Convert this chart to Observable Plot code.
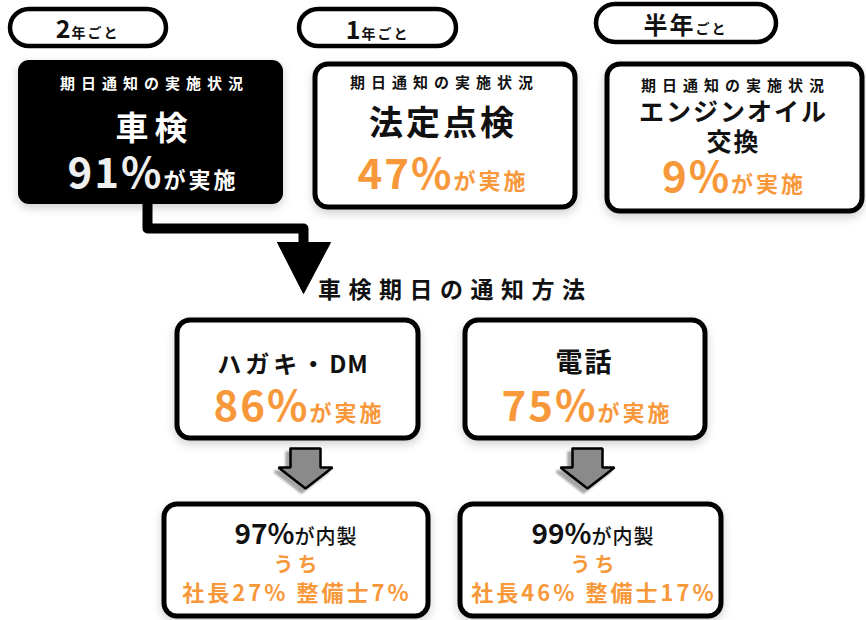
<!DOCTYPE html>
<html><head><meta charset="utf-8">
<script src="https://cdn.jsdelivr.net/npm/d3@7"></script>
<script src="https://cdn.jsdelivr.net/npm/@observablehq/plot@0.6"></script>
<style>html,body{margin:0;padding:0;background:#fff}</style>
</head><body><div id="chart"></div><script>
// ---------- data ----------
const intervalNums = ["2", "1", "半年"];
const intervalUnits = ["年ごと", "年ごと", "ごと"];
const headerLabel = "期日通知の実施状況";
const items = ["車検", "法定点検", "エンジンオイル\n交換"];
const itemRates = [91, 47, 9];
const doneSuffix = "が実施";
const methodTitle = "車検期日の通知方法";
const methods = ["ハガキ・DM", "電話"];
const methodRates = [86, 75];
const inhouseRates = [97, 99];
const inhouseSuffix = "が内製";
const ofWhich = "うち";
const presidentShares = [27, 46];
const mechanicShares = [7, 17];

// ---------- style / layout ----------
const FONT = '"Noto Sans CJK JP", "Noto Sans CJK SC", sans-serif';
const ORANGE = "#f7983a";
const INK = "#111111";
const W = 866, H = 620;
const pills = [
  {x1: 10, x2: 166, y1: 9, y2: 46, cx: 86, base: 37, numSize: 25},
  {x1: 299, x2: 456, y1: 9, y2: 46, cx: 376, base: 38, numSize: 25},
  {x1: 596, x2: 776, y1: 4, y2: 42, cx: 684, base: 33, numSize: 24}
];
const tops = [
  {x1: 18, x2: 283, y1: 60, y2: 204, cx: 151, hdr: 88, item: [139], itemSize: 33, itemLs: 6, rate: 187, dark: true},
  {x1: 315, x2: 575, y1: 64, y2: 207, cx: 441, hdr: 87, item: [134], itemSize: 34, itemLs: 3, rate: 188},
  {x1: 607, x2: 862, y1: 64, y2: 211, cx: 732, hdr: 90, item: [120, 150], itemSize: 25, itemLs: 2, rate: 191}
];
const mids = [
  {x1: 177, x2: 418, y1: 320, y2: 438, cx: 292, name: 372, nameSize: 24, nameLs: 4, rate: 420, rateCx: 297, arrowCx: 305},
  {x1: 465, x2: 705, y1: 320, y2: 438, cx: 583, name: 371, nameSize: 27, nameLs: 2, rate: 420, rateCx: 585, arrowCx: 587}
];
const bots = [
  {x1: 164, x2: 428, y1: 504, y2: 616, cx: 295, l1: 543, l2: 571, l3: 600},
  {x1: 460, x2: 721, y1: 504, y2: 616, cx: 592, l1: 543, l2: 571, l3: 600}
];
const title = {cx: 451, base: 297};

// ---------- text layout helper ----------
const ctx = document.createElement("canvas").getContext("2d");
function measure(t, s, w, ls) {
  ctx.font = `${w} ${s}px ${FONT}`;
  return ctx.measureText(t).width + ls * [...t].length;
}
const T = [];
function line(parts, cx, y) {
  parts = parts.map(p => ({w: 700, ls: 0, ...p}));
  const widths = parts.map(p => measure(p.t, p.s, p.w, p.ls));
  const total = d3.sum(widths) - parts[parts.length - 1].ls;
  let x = cx - total / 2;
  parts.forEach((p, i) => { T.push({...p, x, y}); x += widths[i]; });
}
// split a label into full-width (CJK) and half-width (latin) runs for different spacing
function runs(label, size, lsWide, lsNarrow) {
  return label.match(/[\x00-\x7F]+|[^\x00-\x7F]+/g).map(r =>
    ({t: r, s: size, f: INK, ls: /^[\x00-\x7F]+$/.test(r) ? lsNarrow : lsWide}));
}

pills.forEach((p, i) => {
  line([{t: intervalNums[i], s: p.numSize, f: INK, ls: i === 2 ? 2 : 1},
        {t: intervalUnits[i], s: 14, f: INK, ls: 2}], p.cx, p.base);
});
tops.forEach((b, i) => {
  const main = b.dark ? "white" : INK;
  line([{t: headerLabel, s: 15, f: main, ls: 6}], b.cx, b.hdr);
  items[i].split("\n").forEach((s, j) => line([{t: s, s: b.itemSize, f: main, ls: b.itemLs}], b.cx, b.item[j]));
  line([{t: itemRates[i] + "%", s: 42, f: b.dark ? "#efefef" : ORANGE, ls: 2},
        {t: doneSuffix, s: 22, f: b.dark ? "white" : ORANGE, ls: 3}], b.cx, b.rate);
});
line([{t: methodTitle, s: 23, f: INK, ls: 7.5}], title.cx, title.base);
mids.forEach((b, i) => {
  line(runs(methods[i], b.nameSize, b.nameLs, 1), b.cx, b.name);
  line([{t: methodRates[i] + "%", s: 42, f: ORANGE, ls: 2},
        {t: doneSuffix, s: 22, f: ORANGE, ls: 3}], b.rateCx, b.rate);
});
bots.forEach((b, i) => {
  line([{t: inhouseRates[i] + "%", s: 28, f: INK, ls: 0},
        {t: inhouseSuffix, s: 20, f: INK, ls: 1, w: 500}], b.cx, b.l1);
  line([{t: ofWhich, s: 20, f: ORANGE, ls: 4}], b.cx, b.l2);
  line([{t: `社長${presidentShares[i]}% 整備士${mechanicShares[i]}%`, s: 22, f: ORANGE, ls: 3}], b.cx, b.l3);
});

const b0 = tops[0];
const connector = [
  {x: 147, y: b0.y2 - 2}, {x: 147, y: 228}, {x: 303, y: 228}, {x: 303, y: 246}
];
const triangle = [{x: 277, y: 242}, {x: 330, y: 242}, {x: 303, y: 293}, {x: 277, y: 242}];
const blockArrows = mids.flatMap((m, k) => {
  const c = m.arrowCx, top = 448, neck = 467, tip = 488;
  return [[c - 15, top], [c + 15, top], [c + 15, neck], [c + 27, neck], [c, tip],
          [c - 27, neck], [c - 15, neck], [c - 15, top]].map(([x, y]) => ({x, y, id: k}));
});

const chart = Plot.plot({
  width: W, height: H, margin: 0,
  x: {domain: [0, W], axis: null},
  y: {domain: [0, H], reverse: true, axis: null},
  color: {type: "identity"},
  style: {background: "white", overflow: "hidden"},
  marks: [
    Plot.rect(pills, {x1: "x1", x2: "x2", y1: "y1", y2: "y2", rx: 19, fill: "white", stroke: "black", strokeWidth: 4.5}),
    Plot.rect(tops.filter(d => d.dark), {x1: "x1", x2: "x2", y1: "y1", y2: "y2", rx: 11, fill: "black"}),
    Plot.rect([...tops.filter(d => !d.dark), ...mids, ...bots], {x1: "x1", x2: "x2", y1: "y1", y2: "y2", rx: 13, fill: "white", stroke: "black", strokeWidth: 5}),
    Plot.line(connector, {x: "x", y: "y", stroke: "black", strokeWidth: 10, strokeLinejoin: "round", curve: "linear"}),
    Plot.line(triangle, {x: "x", y: "y", fill: "black", stroke: "black", strokeWidth: 1, curve: "linear"}),
    Plot.line(blockArrows, {x: "x", y: "y", z: "id", fill: "#8a8a8a", stroke: "black", strokeWidth: 2.5, strokeLinejoin: "miter", curve: "linear"}),
    Plot.text(T, {x: "x", y: "y", text: "t", fontSize: "s", fill: "f", fontWeight: 700, fontFamily: FONT,
      textAnchor: "start", lineAnchor: "bottom"})
  ]
});
const rectGroups = chart.querySelectorAll('g[aria-label="rect"]');
[rectGroups[1], rectGroups[2]].forEach(g => g && (g.style.filter = "drop-shadow(0px 4px 5px rgba(0,0,0,0.18))"));
const lineGroups = chart.querySelectorAll('g[aria-label="line"]');
if (lineGroups[2]) lineGroups[2].style.filter = "drop-shadow(-4px 4px 1px rgba(0,0,0,0.35))";
const textGroup = chart.querySelector('g[aria-label="text"]');
if (textGroup) textGroup.querySelectorAll("text").forEach((el, i) => {
  el.style.letterSpacing = T[i].ls + "px";
  if (T[i].w !== 700) el.setAttribute("font-weight", T[i].w);
});
document.getElementById("chart").append(chart);
</script></body></html>
